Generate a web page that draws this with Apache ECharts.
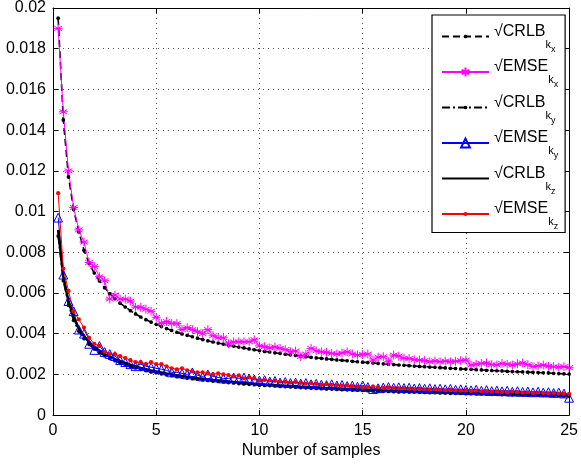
<!DOCTYPE html>
<html>
<head>
<meta charset="utf-8">
<script src="https://cdn.jsdelivr.net/npm/echarts@6/dist/echarts.min.js"></script>
<style>
html,body{margin:0;padding:0;background:#fff;}
#chart{width:581px;height:464px;}
</style>
</head>
<body>
<div id="chart"></div>
<script>
const samples = [0.25,0.5,0.75,1,1.25,1.5,1.75,2,2.25,2.5,2.75,3,3.25,3.5,3.75,4,4.25,4.5,4.75,5,
5.25,5.5,5.75,6,6.25,6.5,6.75,7,7.25,7.5,7.75,8,8.25,8.5,8.75,9,9.25,9.5,9.75,10,
10.25,10.5,10.75,11,11.25,11.5,11.75,12,12.25,12.5,12.75,13,13.25,13.5,13.75,14,14.25,14.5,14.75,15,
15.25,15.5,15.75,16,16.25,16.5,16.75,17,17.25,17.5,17.75,18,18.25,18.5,18.75,19,19.25,19.5,19.75,20,
20.25,20.5,20.75,21,21.25,21.5,21.75,22,22.25,22.5,22.75,23,23.25,23.5,23.75,24,24.25,24.5,24.75,25];

const crlbKx = [0.0195,0.0145,0.0117,0.0101,0.0090,0.0081,0.00745,0.00698,0.00659,0.00626,
0.00597,0.00572,0.00550,0.00531,0.00513,0.00497,0.00482,0.00469,0.00457,0.00446,
0.00435,0.00425,0.00416,0.00407,0.00399,0.00392,0.00385,0.00378,0.00371,0.00365,
0.00359,0.00354,0.00349,0.00344,0.00339,0.00334,0.00330,0.00325,0.00321,0.00317,
0.00313,0.00310,0.00306,0.00303,0.00299,0.00296,0.00293,0.00290,0.00287,0.00284,
0.00281,0.00279,0.00276,0.00274,0.00271,0.00269,0.00267,0.00264,0.00262,0.00260,
0.00258,0.00256,0.00254,0.00252,0.00250,0.00248,0.00246,0.00245,0.00243,0.00241,
0.00239,0.00238,0.00236,0.00235,0.00233,0.00232,0.00230,0.00229,0.00227,0.00226,
0.00225,0.00223,0.00222,0.00220,0.00219,0.00218,0.00217,0.00215,0.00214,0.00213,
0.00212,0.00211,0.00210,0.00209,0.00208,0.00207,0.00205,0.00204,0.00203,0.00202];

const emseKx = [0.0190,0.0149,0.0120,0.0102,0.0091,0.0085,0.0075,0.0073,0.0068,0.0066,
0.0057,0.0059,0.0057,0.0057,0.0056,0.0053,0.0053,0.0052,0.0051,0.0048,
0.0045,0.0046,0.0045,0.0045,0.0042,0.0043,0.0042,0.0041,0.0040,0.0042,
0.0039,0.0038,0.0038,0.0035,0.0036,0.0036,0.0036,0.0036,0.0037,0.0034,
0.00336,0.00330,0.00335,0.00328,0.00322,0.00311,0.00315,0.00287,0.00300,0.00328,
0.00315,0.00311,0.00308,0.00303,0.00300,0.00305,0.00311,0.00300,0.00295,0.00298,
0.00300,0.00270,0.00285,0.00287,0.00262,0.00295,0.00290,0.00279,0.00278,0.00272,
0.00270,0.00268,0.00262,0.00266,0.00262,0.00265,0.00262,0.00264,0.00268,0.00270,
0.00246,0.00250,0.00254,0.00256,0.00248,0.00246,0.00254,0.00250,0.00246,0.00252,
0.00256,0.00248,0.00238,0.00242,0.00246,0.00240,0.00238,0.00236,0.00238,0.00233];

const crlbKy = [0.0088,0.0066,0.0054,0.00466,0.00412,0.00376,0.00347,0.00325,0.00306,0.00291,
0.00278,0.00267,0.00256,0.00247,0.00239,0.00232,0.00224,0.00218,0.00212,0.00208,
0.00203,0.00198,0.00194,0.00189,0.00186,0.00182,0.00179,0.00176,0.00173,0.00170,
0.00167,0.00165,0.00163,0.00160,0.00158,0.00155,0.00153,0.00151,0.00149,0.00147,
0.00146,0.00145,0.00143,0.00141,0.00140,0.00138,0.00137,0.00135,0.00134,0.00132,
0.00131,0.00130,0.00128,0.00128,0.00126,0.00125,0.00124,0.00123,0.00122,0.00121,
0.00120,0.00119,0.00118,0.00117,0.00116,0.00115,0.00114,0.00114,0.00113,0.00113,
0.00112,0.00111,0.00110,0.00110,0.00109,0.00108,0.00107,0.00107,0.00106,0.00105,
0.00105,0.00104,0.00104,0.00103,0.00102,0.00102,0.00101,0.00100,0.00100,0.00099,
0.00099,0.00098,0.00098,0.00097,0.00097,0.00096,0.00095,0.00095,0.00094,0.00094];

const emseKy = [0.0097,0.0069,0.0056,0.0051,0.0042,0.0040,0.0035,0.0032,0.0034,0.0031,
0.0030,0.0029,0.0027,0.0026,0.0025,0.0024,0.0025,0.0024,0.00235,0.0023,
0.00225,0.0022,0.0021,0.0021,0.00205,0.0020,0.0021,0.00195,0.0019,0.0020,
0.0019,0.00185,0.0018,0.0018,0.00185,0.0018,0.00185,0.0018,0.00175,0.0017,
0.00172,0.00165,0.00168,0.0016,0.00163,0.00158,0.0016,0.00155,0.00158,0.00152,
0.00154,0.0015,0.00148,0.00152,0.00146,0.00148,0.00143,0.00145,0.0014,0.00146,
0.00138,0.00128,0.00132,0.00136,0.00138,0.00135,0.00137,0.00133,0.00135,0.00131,
0.00133,0.0013,0.00132,0.00128,0.0013,0.00127,0.00129,0.00125,0.00127,0.00124,
0.00122,0.00125,0.0012,0.00123,0.00118,0.00121,0.00117,0.0012,0.00115,0.00118,
0.00114,0.00116,0.00112,0.00115,0.00111,0.00113,0.00109,0.00111,0.00106,0.00085];

const crlbKz = [0.0091,0.0068,0.0056,0.0048,0.00425,0.00388,0.00358,0.00335,0.00316,0.00300,
0.00287,0.00275,0.00264,0.00255,0.00246,0.00239,0.00231,0.00225,0.00219,0.00214,
0.00209,0.00204,0.00200,0.00195,0.00192,0.00188,0.00185,0.00181,0.00178,0.00175,
0.00172,0.00170,0.00168,0.00165,0.00163,0.00160,0.00158,0.00156,0.00154,0.00152,
0.00150,0.00149,0.00147,0.00145,0.00144,0.00142,0.00141,0.00139,0.00138,0.00136,
0.00135,0.00134,0.00132,0.00132,0.00130,0.00129,0.00128,0.00127,0.00126,0.00125,
0.00124,0.00123,0.00122,0.00121,0.00120,0.00119,0.00118,0.00118,0.00117,0.00116,
0.00115,0.00114,0.00113,0.00113,0.00112,0.00111,0.00110,0.00110,0.00109,0.00108,
0.00108,0.00107,0.00107,0.00106,0.00105,0.00105,0.00104,0.00103,0.00103,0.00102,
0.00102,0.00101,0.00101,0.00100,0.00100,0.00099,0.00098,0.00098,0.00097,0.00097];

const emseKz = [0.0109,0.0072,0.0061,0.0051,0.0047,0.0043,0.0038,0.0035,0.0034,0.0031,
0.0030,0.0030,0.0029,0.0028,0.0027,0.0026,0.0026,0.0025,0.0026,0.0025,
0.0025,0.0024,0.0023,0.00225,0.0023,0.0022,0.00215,0.0021,0.0021,0.00205,
0.0020,0.00205,0.0020,0.00197,0.0019,0.00195,0.0018,0.00185,0.0018,0.0017,
0.00172,0.0017,0.00168,0.00165,0.00163,0.0016,0.00162,0.00158,0.00155,0.00157,
0.00153,0.0015,0.00152,0.00148,0.00147,0.00145,0.00146,0.00142,0.0014,0.00135,
0.00138,0.0014,0.00137,0.00134,0.00136,0.00133,0.00131,0.00133,0.0013,0.00128,
0.0013,0.00127,0.00125,0.00127,0.00124,0.00122,0.00125,0.00122,0.0012,0.00121,
0.00119,0.0012,0.00117,0.00118,0.00115,0.00117,0.00114,0.00112,0.00115,0.00113,
0.0011,0.00112,0.00109,0.00111,0.00108,0.00107,0.00109,0.00106,0.00105,0.00104];

const xTicks = {min: 0, max: 25, interval: 5};
const yTicks = {min: 0, max: 0.02, interval: 0.002};

const legendLabels = {
  crlbKx: ['√CRLB', 'k', 'x'],
  emseKx: ['√EMSE', 'k', 'x'],
  crlbKy: ['√CRLB', 'k', 'y'],
  emseKy: ['√EMSE', 'k', 'y'],
  crlbKz: ['√CRLB', 'k', 'z'],
  emseKz: ['√EMSE', 'k', 'z']
};

const FONT = '"Liberation Sans", Arial, Helvetica, sans-serif';
const pair = (ys) => samples.map((x, i) => [x, ys[i]]);

// marker shapes (in a fixed 10x10 frame so that the legend and plot sizes agree)
const starPath = 'path://M0,-5L0,5M-4.33,-2.5L4.33,2.5M-4.33,2.5L4.33,-2.5M-5,0L5,0';
const smallDot = 'path://M-5,-5L-5,-5M5,5L5,5M-2.1,0A2.1,2.1,0,1,1,2.1,0A2.1,2.1,0,1,1,-2.1,0Z';
const redDot = 'path://M-5,-5L-5,-5M5,5L5,5M-2.4,0A2.4,2.4,0,1,1,2.4,0A2.4,2.4,0,1,1,-2.4,0Z';
const triPath = 'path://M0,-5L5,4L-5,4Z';

const LEG_H = 11;
const MARK = LEG_H * 0.8;

const chart = echarts.init(document.getElementById('chart'), null, {renderer: 'canvas'});

const axisCommon = {
  type: 'value',
  axisLine: {show: true, onZero: false, lineStyle: {color: '#000', width: 1}},
  axisTick: {show: true, inside: true, length: 5, lineStyle: {color: '#000'}},
};

const RH = 35; // legend row height
const option = {
  animation: false,
  backgroundColor: '#fff',
  grid: {left: 53, right: 8, top: 8, bottom: 47, containLabel: false},
  xAxis: [
    Object.assign({}, axisCommon, xTicks, {
      position: 'bottom',
      axisLabel: {show: true, color: '#000', fontSize: 16, fontFamily: FONT, margin: 7},
      splitLine: {show: true, lineStyle: {color: '#555', width: 1, type: [1, 4]}},
      name: 'Number of samples',
      nameLocation: 'middle',
      nameGap: 27,
      nameTextStyle: {color: '#000', fontSize: 16, fontFamily: FONT}
    }),
    Object.assign({}, axisCommon, xTicks, {
      position: 'top',
      axisLabel: {show: false},
      splitLine: {show: false}
    })
  ],
  yAxis: [
    Object.assign({}, axisCommon, yTicks, {
      position: 'left',
      axisLabel: {show: true, color: '#000', fontSize: 16, fontFamily: FONT, margin: 7},
      splitLine: {show: true, lineStyle: {color: '#555', width: 1, type: [1, 4]}}
    }),
    Object.assign({}, axisCommon, yTicks, {
      position: 'right',
      axisLabel: {show: false},
      splitLine: {show: false}
    })
  ],
  legend: {
    left: 432,
    top: 15,
    orient: 'vertical',
    backgroundColor: '#fff',
    borderColor: '#000',
    borderWidth: 1.2,
    padding: [4, 7, 1, 9],
    itemGap: 0.5,
    itemWidth: 47,
    itemHeight: LEG_H,
    align: 'left',
    data: [
      {name: 'crlbKx'}, {name: 'emseKx'}, {name: 'crlbKy'}, {name: 'emseKy'},
      {name: 'crlbKz', itemStyle: {opacity: 0}}, {name: 'emseKz'}
    ],
    formatter: (name) => {
      const l = legendLabels[name];
      return '{a|' + l[0] + '}{b|' + l[1] + '}{c|' + l[2] + '}';
    },
    textStyle: {
      color: '#000',
      fontFamily: FONT,
      rich: {
        a: {fontSize: 16, fontFamily: FONT, color: '#000', lineHeight: RH, verticalAlign: 'middle', padding: [0, 0, 10, 0]},
        b: {fontSize: 11, fontFamily: FONT, color: '#000', lineHeight: RH, verticalAlign: 'middle', padding: [16, 0, 0, 0]},
        c: {fontSize: 9, fontFamily: FONT, color: '#000', lineHeight: RH, verticalAlign: 'middle', padding: [26, 0, 0, 0]}
      }
    }
  },
  series: [
    {
      name: 'crlbKx', type: 'line', data: pair(crlbKx),
      symbol: smallDot, symbolSize: MARK,
      lineStyle: {color: '#000', width: 1.6, type: [7, 4]},
      itemStyle: {color: '#000', borderWidth: 0}
    },
    {
      name: 'emseKx', type: 'line', data: pair(emseKx),
      symbol: starPath, symbolSize: MARK,
      lineStyle: {color: '#ff00ff', width: 1},
      itemStyle: {color: '#ff00ff', borderColor: '#ff00ff', borderWidth: 1}
    },
    {
      name: 'crlbKy', type: 'line', data: pair(crlbKy),
      symbol: smallDot, symbolSize: MARK,
      lineStyle: {color: '#000', width: 1.6, type: [8, 3, 2, 3]},
      itemStyle: {color: '#000', borderWidth: 0}
    },
    {
      name: 'emseKy', type: 'line', data: pair(emseKy),
      symbol: triPath, symbolSize: MARK,
      lineStyle: {color: '#0000ff', width: 1},
      itemStyle: {color: 'rgba(0,0,0,0)', borderColor: '#0000ff', borderWidth: 1}
    },
    {
      name: 'crlbKz', type: 'line', data: pair(crlbKz),
      symbol: 'none',
      lineStyle: {color: '#000', width: 2.6},
      itemStyle: {color: '#000'}
    },
    {
      name: 'emseKz', type: 'line', data: pair(emseKz),
      symbol: redDot, symbolSize: MARK,
      lineStyle: {color: '#ff0000', width: 1},
      itemStyle: {color: '#ff0000', borderWidth: 0}
    }
  ]
};

chart.setOption(option);
</script>
</body>
</html>
